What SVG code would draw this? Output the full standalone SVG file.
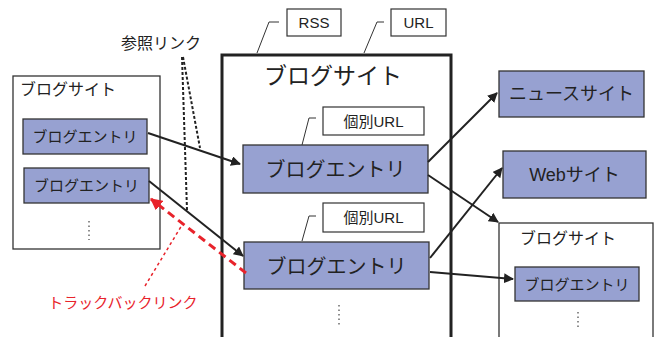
<svg xmlns="http://www.w3.org/2000/svg" width="657" height="337" viewBox="0 0 657 337">
<defs>
<style>
text{font-family:"Liberation Sans","Noto Sans CJK JP",sans-serif;fill:#222;}
.site{fill:#fff;stroke:#333;stroke-width:1.3;}
.main{fill:#fff;stroke:#222;stroke-width:3;}
.entry{fill:#97a1d1;stroke:#333;stroke-width:1.3;}
.tag{fill:#fff;stroke:#333;stroke-width:1.2;}
.callout{fill:none;stroke:#333;stroke-width:1;}
.dots{fill:none;stroke:#444;stroke-width:1.2;stroke-dasharray:1.5 3;}
.link{fill:none;stroke:#222;stroke-width:2;marker-end:url(#ah);}
.ref{fill:none;stroke:#222;stroke-width:2;stroke-dasharray:3 2;}
.tb{fill:none;stroke:#e8232b;stroke-width:3;stroke-dasharray:8 5;marker-end:url(#ahr);}
.tbl{fill:none;stroke:#e8232b;stroke-width:1.5;stroke-dasharray:3 3;}
</style>
<marker id="ah" viewBox="0 0 10 10" refX="9" refY="5" markerWidth="5" markerHeight="5" orient="auto" markerUnits="strokeWidth"><path d="M0,0 L10,5 L0,10 z" fill="#222"/></marker>
<marker id="ahr" viewBox="0 0 10 10" refX="9" refY="5" markerWidth="4" markerHeight="4" orient="auto" markerUnits="strokeWidth"><path d="M0,0 L10,5 L0,10 z" fill="#e8232b"/></marker>
</defs>

<g id="left-site">
<rect class="site" x="13" y="76" width="147" height="173"/>
<text x="20" y="95" font-size="16">ブログサイト</text>
<path class="dots" d="M89,221 V240"/>
</g>
<g id="left-entry1">
<rect class="entry" x="23" y="119" width="124" height="35"/>
<text x="85" y="142" font-size="15" text-anchor="middle">ブログエントリ</text>
</g>
<g id="left-entry2">
<rect class="entry" x="24" y="168" width="125" height="35"/>
<text x="86.5" y="191" font-size="15" text-anchor="middle">ブログエントリ</text>
</g>

<g id="main-site">
<rect class="main" x="222" y="55" width="229" height="300"/>
<text x="333" y="84" font-size="23" text-anchor="middle">ブログサイト</text>
<path class="dots" d="M339,305 V326"/>
</g>
<g id="rss">
<polyline class="callout" points="257,53 269,22 279,22"/>
<rect class="tag" x="287" y="9" width="54" height="27"/>
<text x="314" y="28" font-size="15" text-anchor="middle">RSS</text>
</g>
<g id="url">
<polyline class="callout" points="364,53 377,22 384,22"/>
<rect class="tag" x="391" y="9" width="55" height="27"/>
<text x="418.5" y="28" font-size="15" text-anchor="middle">URL</text>
</g>
<g id="main-entry1">
<polyline class="callout" points="302,145 309,118 316,118"/>
<rect class="tag" x="323" y="107" width="101" height="28"/>
<text x="373.5" y="127" font-size="15" text-anchor="middle">個別URL</text>
<rect class="entry" x="243" y="145" width="185" height="48"/>
<text x="335.5" y="177" font-size="20" text-anchor="middle">ブログエントリ</text>
</g>
<g id="main-entry2">
<polyline class="callout" points="302,241 309,216 316,216"/>
<rect class="tag" x="323" y="203" width="101" height="29"/>
<text x="373.5" y="223" font-size="15" text-anchor="middle">個別URL</text>
<rect class="entry" x="244" y="242" width="185" height="47"/>
<text x="336.5" y="274" font-size="20" text-anchor="middle">ブログエントリ</text>
</g>

<g id="news-site">
<rect class="entry" x="499" y="71" width="145" height="46"/>
<text x="571.5" y="100" font-size="18" text-anchor="middle">ニュースサイト</text>
</g>
<g id="web-site">
<rect class="entry" x="503" y="151" width="143" height="47"/>
<text x="574.5" y="181" font-size="18" text-anchor="middle">Webサイト</text>
</g>
<g id="right-site">
<rect class="site" x="499" y="223" width="154" height="130"/>
<text x="520" y="244" font-size="16">ブログサイト</text>
<path class="dots" d="M578,312 V329"/>
</g>
<g id="right-entry">
<rect class="entry" x="515" y="267" width="124" height="34"/>
<text x="577" y="290" font-size="15" text-anchor="middle">ブログエントリ</text>
</g>

<g id="labels">
<text x="161" y="49" font-size="16" text-anchor="middle">参照リンク</text>
<text x="123" y="308" font-size="15" text-anchor="middle" style="fill:#e8232b">トラックバックリンク</text>
</g>

<g id="connectors">
<path class="ref" d="M182,57 L187,210"/>
<path class="ref" d="M183,57 L200,148"/>
<path class="link" d="M148,133 L240,164"/>
<path class="link" d="M149,181 L243,256"/>
<path class="tb" d="M246,273 L151,199"/>
<path class="tbl" d="M145,286 L182,225"/>
<path class="link" d="M428,162 L497,93"/>
<path class="link" d="M428,175 L498,222"/>
<path class="link" d="M430,258 L502,168"/>
<path class="link" d="M430,272 L513,279"/>
</g>
</svg>
